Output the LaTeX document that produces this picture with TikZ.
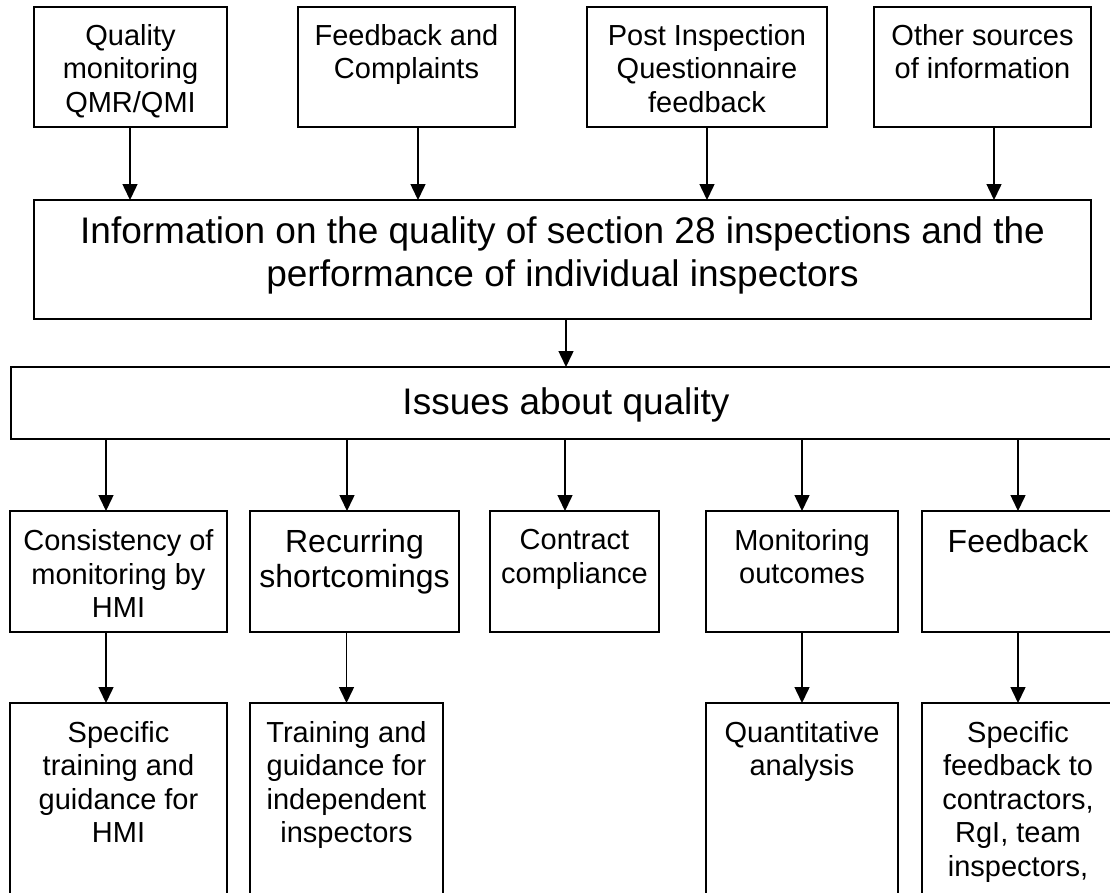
\documentclass[tikz,border=0pt]{standalone}
\usepackage{fontspec}
\setmainfont{Liberation Sans}
\usetikzlibrary{arrows.meta}
\tikzset{
  box/.style={draw, line width=1.5pt, inner sep=0pt, outer sep=0pt},
  txt/.style={inner sep=0pt, outer sep=0pt, align=center, anchor=north, font=\fontsize{29}{33.5}\selectfont},
  txtb/.style={txt, font=\fontsize{32}{35}\selectfont},
  txtbig/.style={inner sep=0pt, outer sep=0pt, align=center, font=\fontsize{37}{43}\selectfont},
  arr/.style={line width=1.5pt, -{Triangle[width=15pt,length=16pt]}}
}
\begin{document}
\begin{tikzpicture}[x=1pt,y=-1pt]
\useasboundingbox (0,0) rectangle (1110,892);
\clip (0,0) rectangle (1110,892);
% top row
\node[box, minimum width=193pt, minimum height=120pt] (q1) at (130.5,67) {};
\node[box, minimum width=217pt, minimum height=120pt] (q2) at (406.5,67) {};
\node[box, minimum width=240pt, minimum height=120pt] (q3) at (707,67) {};
\node[box, minimum width=217pt, minimum height=120pt] (q4) at (982.5,67) {};
\node[txt] (q1t) at ([yshift=-17pt]q1.north) {Quality\\monitoring\\QMR/QMI};
\node[txt] (q2t) at ([yshift=-17pt]q2.north) {Feedback and\\Complaints};
\node[txt] (q3t) at ([yshift=-17pt]q3.north) {Post Inspection\\Questionnaire\\feedback};
\node[txt] (q4t) at ([yshift=-17pt]q4.north) {Other sources\\of information};
% info box
\node[box, minimum width=1057pt, minimum height=119pt] (info) at (562.5,259.5) {};
\node[txtbig, anchor=north] (infot) at ([yshift=-16.5pt]info.north) {Information on the quality of section 28 inspections and the\\performance of individual inspectors};
% issues box
\node[box, minimum width=1110pt, minimum height=72pt] (iss) at (566,403) {};
\node[txtbig] (isst) at ([yshift=-2pt]iss.center) {Issues about quality};
% row 3
\node[box, minimum width=217pt, minimum height=121pt] (a3) at (118.5,571.5) {};
\node[box, minimum width=209pt, minimum height=121pt] (b3) at (354.5,571.5) {};
\node[box, minimum width=169pt, minimum height=121pt] (c3) at (574.5,571.5) {};
\node[box, minimum width=192pt, minimum height=121pt] (d3) at (802,571.5) {};
\node[box, minimum width=192pt, minimum height=121pt] (e3) at (1018,571.5) {};
\node[txt] (a3t) at ([yshift=-18.5pt]a3.north) {Consistency of\\monitoring by\\HMI};
\node[txtb] (b3t) at ([yshift=-18pt]b3.north) {Recurring\\shortcomings};
\node[txt] (c3t) at ([yshift=-18.5pt]c3.north) {Contract\\compliance};
\node[txt] (d3t) at ([yshift=-18pt]d3.north) {Monitoring\\outcomes};
\node[txtb] (e3t) at ([yshift=-18pt]e3.north) {Feedback};
% row 4
\node[box, minimum width=217pt, minimum height=202pt] (a4) at (118.5,804) {};
\node[box, minimum width=193pt, minimum height=202pt] (b4) at (346.5,804) {};
\node[box, minimum width=192pt, minimum height=202pt] (d4) at (802,804) {};
\node[box, minimum width=192pt, minimum height=202pt] (e4) at (1018,804) {};
\node[txt] (a4t) at ([yshift=-18pt]a4.north) {Specific\\training and\\guidance for\\HMI};
\node[txt] (b4t) at ([yshift=-18pt]b4.north) {Training and\\guidance for\\independent\\inspectors};
\node[txt] (d4t) at ([yshift=-18pt]d4.north) {Quantitative\\analysis};
\node[txt] (e4t) at ([yshift=-18pt]e4.north) {Specific\\feedback to\\contractors,\\RgI, team\\inspectors,};
% arrow end points
\coordinate (p1) at ([xshift=-0.5pt]q1.south);
\coordinate (p2) at ([xshift=11.5pt]q2.south);
\coordinate (p3) at (q3.south);
\coordinate (p4) at ([xshift=11.5pt]q4.south);
\coordinate (pi) at ([xshift=3.5pt]info.south);
\coordinate (pa) at ([xshift=-12.5pt]a3.north);
\coordinate (pb) at ([xshift=-7.5pt]b3.north);
\coordinate (pc) at ([xshift=-9.5pt]c3.north);
\coordinate (pd) at (d3.north);
\coordinate (pe) at (e3.north);
\coordinate (pa4) at ([xshift=-12.5pt]a4.north);
\coordinate (pb4) at (b4.north);
% arrows
\draw[arr] (p1) -- (p1 |- info.north);
\draw[arr] (p2) -- (p2 |- info.north);
\draw[arr] (p3) -- (p3 |- info.north);
\draw[arr] (p4) -- (p4 |- info.north);
\draw[arr] (pi) -- (pi |- iss.north);
\draw[arr] (iss.south -| pa) -- (pa);
\draw[arr] (iss.south -| pb) -- (pb);
\draw[arr] (iss.south -| pc) -- (pc);
\draw[arr] (iss.south -| pd) -- (pd);
\draw[arr] (iss.south -| pe) -- (pe);
\draw[arr] (a3.south -| pa4) -- (pa4);
\draw[arr] (b3.south -| pb4) -- (pb4);
\draw[arr] (d3.south) -- (d4.north);
\draw[arr] (e3.south) -- (e4.north);
\end{tikzpicture}
\end{document}
